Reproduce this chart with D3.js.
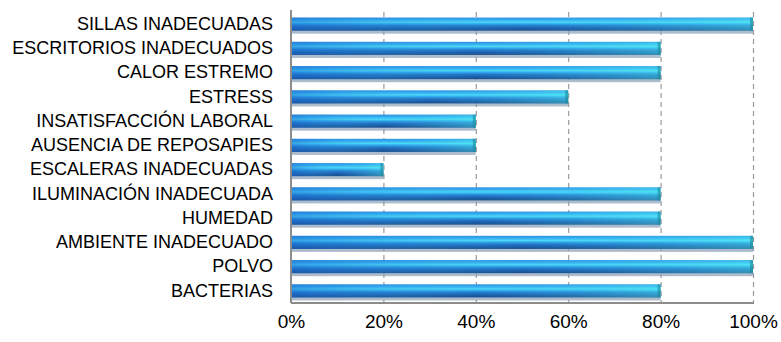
<!DOCTYPE html>
<html>
<head>
<meta charset="utf-8">
<script src="https://cdn.jsdelivr.net/npm/d3@7"></script>
<style>
  html, body { margin: 0; padding: 0; background: #fff; }
  svg { display: block; font-family: Arial, "Liberation Sans", sans-serif; }
</style>
</head>
<body>
<svg id="chart" width="781" height="342"></svg>
<script>
// Categories, top to bottom
const categories = [
  "SILLAS INADECUADAS",
  "ESCRITORIOS INADECUADOS",
  "CALOR ESTREMO",
  "ESTRESS",
  "INSATISFACCIÓN LABORAL",
  "AUSENCIA DE REPOSAPIES",
  "ESCALERAS INADECUADAS",
  "ILUMINACIÓN INADECUADA",
  "HUMEDAD",
  "AMBIENTE INADECUADO",
  "POLVO",
  "BACTERIAS"
];
// Share of respondents (0–1)
const values = [1.0, 0.8, 0.8, 0.6, 0.4, 0.4, 0.2, 0.8, 0.8, 1.0, 1.0, 0.8];
const tickValues = [0, 0.2, 0.4, 0.6, 0.8, 1.0];
const tickLabels = ["0%", "20%", "40%", "60%", "80%", "100%"];

const svg = d3.select("#chart");
const margin = { left: 291, right: 28, top: 12, bottom: 39 };
const W = 781, H = 342;
const x = d3.scaleLinear().domain([0, 1]).range([margin.left, W - margin.right]);
const y = d3.scaleBand().domain(categories).range([margin.top, H - margin.bottom]).paddingInner(0.46).paddingOuter(0.23);

const defs = svg.append("defs");
// vertical shading for the tube look
const gv = defs.append("linearGradient").attr("id", "barV").attr("x1", 0).attr("y1", 0).attr("x2", 0).attr("y2", 1);
[
  [0, "#2b8ee4"], [0.18, "#35aef0"], [0.36, "#4cd8f6"], [0.5, "#2e9fe8"],
  [0.64, "#2277c8"], [0.84, "#1c5ca6"], [1, "#194c8c"]
].forEach(([o, c]) => gv.append("stop").attr("offset", o).attr("stop-color", c));
// horizontal tint: bluer at the base, more cyan towards the end
const gh = defs.append("linearGradient").attr("id", "barH").attr("x1", 0).attr("y1", 0).attr("x2", 1).attr("y2", 0);
[[0, "#1a68d0", 0.45], [0.5, "#3fc8f0", 0.0], [1, "#55f4f0", 0.4]]
  .forEach(([o, c, op]) => gh.append("stop").attr("offset", o).attr("stop-color", c).attr("stop-opacity", op));

// dashed gridlines
svg.append("g").selectAll("line").data(tickValues.slice(1)).join("line")
  .attr("x1", d => x(d) + 0.5).attr("x2", d => x(d) + 0.5)
  .attr("y1", margin.top).attr("y2", H - margin.bottom)
  .attr("stroke", "#9a9a9a").attr("stroke-width", 1.2).attr("stroke-dasharray", "5,4");

// bars
const bh = y.bandwidth();
const bars = svg.append("g").selectAll("g").data(categories).join("g");
// soft shadow under each bar
bars.append("rect")
  .attr("x", x(0)).attr("y", d => y(d) + 3)
  .attr("width", (d, i) => x(values[i]) - x(0)).attr("height", bh)
  .attr("fill", "#8aa0b8").attr("opacity", 0.7);
bars.append("rect")
  .attr("x", x(0)).attr("y", d => y(d))
  .attr("width", (d, i) => x(values[i]) - x(0)).attr("height", bh)
  .attr("fill", "url(#barV)");
bars.append("rect")
  .attr("x", x(0)).attr("y", d => y(d))
  .attr("width", (d, i) => x(values[i]) - x(0)).attr("height", bh)
  .attr("fill", "url(#barH)");
// end cap
bars.append("rect")
  .attr("x", (d, i) => x(values[i]) - 3).attr("y", d => y(d))
  .attr("width", 3).attr("height", bh)
  .attr("fill", "#1d8a9a").attr("opacity", 0.6);

// axes lines
svg.append("line").attr("x1", x(0)).attr("x2", x(0)).attr("y1", margin.top - 2).attr("y2", H - margin.bottom)
  .attr("stroke", "#8c8c8c").attr("stroke-width", 2);
svg.append("line").attr("x1", x(0)).attr("x2", x(1) + 1).attr("y1", H - margin.bottom).attr("y2", H - margin.bottom)
  .attr("stroke", "#8c8c8c").attr("stroke-width", 2);

// category labels
const yAxis = d3.axisLeft(y).tickSize(0).tickPadding(18);
const ga = svg.append("g").attr("transform", `translate(${x(0)},0)`).call(yAxis);
ga.select(".domain").remove();
ga.selectAll("text").attr("font-size", 18).attr("fill", "#000").attr("font-family", "Arial, 'Liberation Sans', sans-serif");

// percentage ticks
const xAxis = d3.axisBottom(x).tickValues(tickValues).tickFormat((d, i) => tickLabels[i]).tickSize(0).tickPadding(12);
const gx = svg.append("g").attr("transform", `translate(0,${H - margin.bottom})`).call(xAxis);
gx.select(".domain").remove();
gx.selectAll("text").attr("font-size", 19).attr("fill", "#000").attr("font-family", "Arial, 'Liberation Sans', sans-serif");
</script>
</body>
</html>
